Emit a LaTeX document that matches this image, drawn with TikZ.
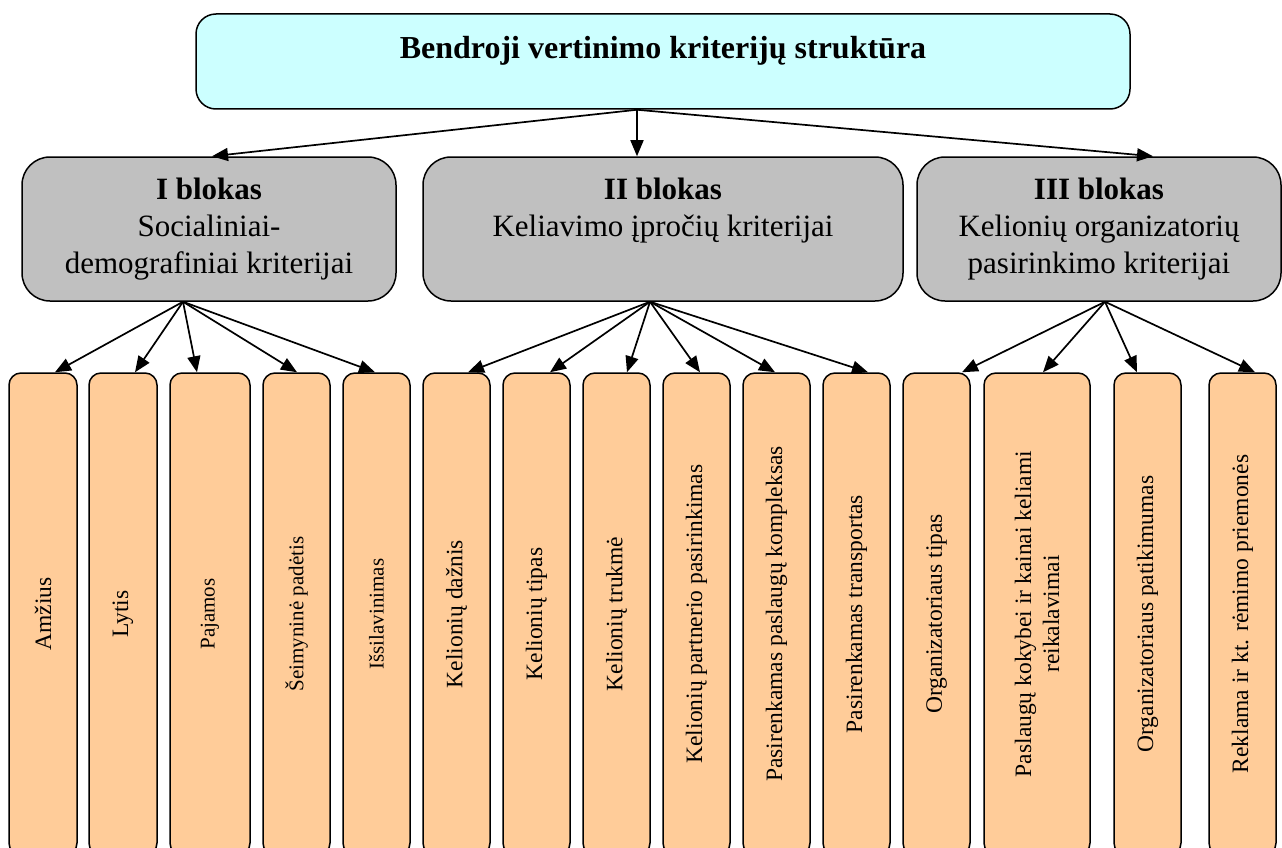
\documentclass[tikz,border=0pt]{standalone}
\usepackage{fontspec}
\setmainfont{Liberation Serif}
\usetikzlibrary{arrows.meta}

\definecolor{topcyan}{HTML}{CCFFFF}
\definecolor{blockgray}{HTML}{C0C0C0}
\definecolor{leaforange}{HTML}{FFCC99}

\begin{document}
\begin{tikzpicture}[
    x=1pt, y=-1pt,
    topblock/.style={rectangle, draw, line width=1.5pt, fill=topcyan, rounded corners=20pt, minimum width=934pt, minimum height=95pt, text height=23pt, text depth=29pt, font=\fontsize{32}{38}\selectfont\bfseries},
    block/.style={rectangle, draw, line width=1.5pt, fill=blockgray, rounded corners=28pt, minimum height=144pt, align=center, font=\fontsize{31}{37}\selectfont},
    leaf/.style={rectangle, draw, line width=1.5pt, fill=leaforange, rounded corners=12pt, rotate=90, minimum width=482pt, minimum height=67pt, align=center, font=\fontsize{23.5}{28}\selectfont},
    smallleaf/.style={leaf, font=\fontsize{21}{26}\selectfont},
    arrow/.style={-{Triangle[length=16pt, width=13pt]}, line width=1.7pt}
]
\path[use as bounding box, clip] (0,0) rectangle (1282,848);

% Top block
\node[topblock] (top) at (663,61.5) {Bendroji vertinimo kriterijų struktūra};

% Blocks
\node[block, minimum width=374pt] (b1) at (209,229) {\strut\textbf{I blokas}\\Socialiniai-\\demografiniai kriterijai\strut};
\node[block, minimum width=480pt] (b2) at (663,229) {\strut\textbf{II blokas}\\Keliavimo įpročių kriterijai\\\strut};
\node[block, minimum width=364pt] (b3) at (1099,229) {\strut\textbf{III blokas}\\Kelionių organizatorių\\pasirinkimo kriterijai\strut};

% I blokas criteria
\node[leaf, minimum height=68pt] (c1) at (43,614) {Amžius};
\node[leaf, minimum height=68pt] (c2) at (123,614) {Lytis};
\node[smallleaf, minimum height=80pt] (c3) at (210,614) {Pajamos};
\node[smallleaf] (c4) at (296.5,614) {Šeimyninė padėtis};
\node[smallleaf] (c5) at (376.5,614) {Išsilavinimas};

% II blokas criteria
\node[leaf] (c6) at (456.5,614) {Kelionių dažnis};
\node[leaf] (c7) at (536.5,614) {Kelionių tipas};
\node[leaf] (c8) at (616.5,614) {Kelionių trukmė};
\node[leaf] (c9) at (696.5,614) {Kelionių partnerio pasirinkimas};
\node[leaf] (c10) at (776.5,614) {Pasirenkamas paslaugų kompleksas};
\node[leaf] (c11) at (856.5,614) {Pasirenkamas transportas};

% III blokas criteria
\node[leaf] (c12) at (936.5,614) {Organizatoriaus tipas};
\node[leaf, minimum height=106pt] (c13) at (1037,614) {Paslaugų kokybei ir kainai keliami\\reikalavimai};
\node[leaf] (c14) at (1147.5,614) {Organizatoriaus patikimumas};
\node[leaf] (c15) at (1242.5,614) {Reklama ir kt. rėmimo priemonės};

% Arrows from top block
\draw[arrow] ([xshift=-26pt]top.south) -- ([xshift=3pt]b1.north);
\draw[arrow] ([xshift=-26pt]top.south) -- ([xshift=-26pt]b2.north);
\draw[arrow] ([xshift=-26pt]top.south) -- ([xshift=54pt]b3.north);

% Arrows from I blokas
\draw[arrow] ([xshift=-26pt]b1.south) -- ([xshift=12pt]c1.east);
\draw[arrow] ([xshift=-26pt]b1.south) -- ([xshift=12pt]c2.east);
\draw[arrow] ([xshift=-26pt]b1.south) -- ([xshift=-13pt]c3.east);
\draw[arrow] ([xshift=-26pt]b1.south) -- ([xshift=0.5pt]c4.east);
\draw[arrow] ([xshift=-26pt]b1.south) -- ([xshift=-1.5pt]c5.east);

% Arrows from II blokas
\draw[arrow] ([xshift=-13pt]b2.south) -- ([xshift=11.5pt]c6.east);
\draw[arrow] ([xshift=-13pt]b2.south) -- ([xshift=13.5pt]c7.east);
\draw[arrow] ([xshift=-13pt]b2.south) -- ([xshift=10.5pt]c8.east);
\draw[arrow] ([xshift=-13pt]b2.south) -- ([xshift=3.5pt]c9.east);
\draw[arrow] ([xshift=-13pt]b2.south) -- ([xshift=-1.5pt]c10.east);
\draw[arrow] ([xshift=-13pt]b2.south) -- ([xshift=11.5pt]c11.east);

% Arrows from III blokas
\draw[arrow] ([xshift=6pt]b3.south) -- ([xshift=25.5pt]c12.east);
\draw[arrow] ([xshift=6pt]b3.south) -- ([xshift=6pt]c13.east);
\draw[arrow] ([xshift=6pt]b3.south) -- ([xshift=-10.5pt]c14.east);
\draw[arrow] ([xshift=6pt]b3.south) -- ([xshift=12.5pt]c15.east);

\end{tikzpicture}
\end{document}
